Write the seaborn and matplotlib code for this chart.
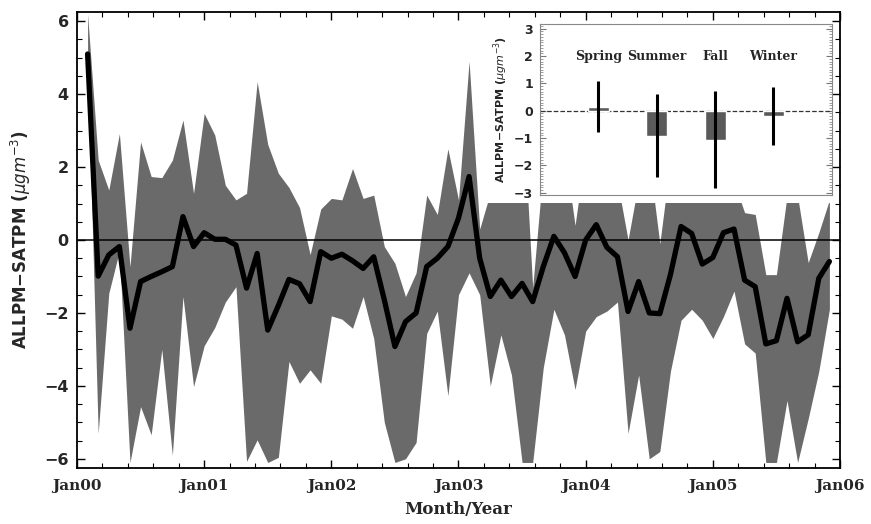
import numpy as np
import seaborn as sns
import matplotlib.pyplot as plt
from matplotlib.patches import Rectangle
from matplotlib.ticker import MultipleLocator

# monthly ALLPM - SATPM differences, month index counted from Jan00
month_idx = np.arange(1, 72)
diff_mean = [5.1, -0.99, -0.41, -0.18, -2.42, -1.14, -1.0, -0.87, -0.73, 0.64,
             -0.18, 0.2, 0.02, 0.02, -0.14, -1.32, -0.37, -2.47, -1.8, -1.08,
             -1.2, -1.69, -0.32, -0.5, -0.39, -0.57, -0.78, -0.46, -1.64, -2.92,
             -2.24, -2.0, -0.73, -0.5, -0.18, 0.6, 1.74, -0.5, -1.55, -1.1,
             -1.55, -1.19, -1.69, -0.73, 0.1, -0.35, -1.0, 0.0, 0.42, -0.2,
             -0.46, -1.96, -1.14, -2.0, -2.02, -0.95, 0.37, 0.18, -0.66, -0.48,
             0.2, 0.3, -1.1, -1.28, -2.85, -2.76, -1.6, -2.79, -2.6, -1.05,
             -0.59]
diff_upper = [6.2, 2.19, 1.37, 2.92, -0.73, 2.69, 1.74, 1.71, 2.19, 3.29,
              1.28, 3.47, 2.88, 1.5, 1.1, 1.28, 4.34, 2.62, 1.83, 1.44,
              0.89, -0.4, 0.85, 1.14, 1.1, 1.96, 1.14, 1.23, -0.18, -0.64,
              -1.55, -0.9, 1.23, 0.7, 2.5, 1.1, 4.9, 0.3, 1.3, 3.0,
              3.5, 4.0, -1.3, 2.0, 2.6, 2.5, 0.4, 2.5, 3.0, 2.5,
              1.6, 0.0, 1.6, 2.2, -0.1, 2.2, 2.8, 2.6, 2.0, 2.0,
              2.6, 1.6, 0.75, 0.7, -0.95, -0.95, 1.2, 1.2, -0.62, 0.2,
              1.1]
diff_lower = [5.0, -5.3, -1.46, -0.3, -6.1, -4.57, -5.34, -3.0, -5.9, -1.55,
              -4.02, -2.9, -2.4, -1.7, -1.28, -6.07, -5.48, -6.1, -5.96, -3.33,
              -3.93, -3.56, -3.93, -2.08, -2.17, -2.42, -1.55, -2.7, -5.0, -6.1,
              -6.0, -5.55, -2.56, -1.95, -4.27, -1.5, -0.9, -1.5, -4.0, -2.6,
              -3.7, -6.1, -6.1, -3.5, -1.9, -2.6, -4.1, -2.5, -2.1, -1.95,
              -1.7, -5.3, -3.7, -6.0, -5.8, -3.6, -2.2, -1.9, -2.2, -2.7,
              -2.1, -1.4, -2.85, -3.1, -6.1, -6.1, -4.4, -6.1, -4.9, -3.6,
              -1.9]
year_ticks = [0, 12, 24, 36, 48, 60, 72]
year_labels = ["Jan00", "Jan01", "Jan02", "Jan03", "Jan04", "Jan05", "Jan06"]

# seasonal means with spread
seasons = ["Spring", "Summer", "Fall", "Winter"]
season_mean = [0.15, -0.92, -1.08, -0.2]
season_hi = [1.1, 0.6, 0.72, 0.86]
season_lo = [-0.78, -2.42, -2.84, -1.25]

sns.set_style("ticks")
plt.rcParams['font.family'] = ['DejaVu Sans']

fig = plt.figure(figsize=(8.71, 5.24), dpi=100)
ax = fig.add_axes([0.0884, 0.107, 0.876, 0.870])
ax.set_axisbelow(False)

ax.fill_between(month_idx, diff_lower, diff_upper, color="#6a6a6a", lw=0, zorder=1)
# white box behind the inset hides the top of the band
ax.add_patch(Rectangle((0.537, 0.581), 0.5, 0.5, transform=ax.transAxes,
                       facecolor="white", edgecolor="none", zorder=1.2))
ax.axhline(0, color="black", lw=1.1, zorder=2)
sns.lineplot(x=month_idx, y=diff_mean, color="black", lw=3.8, ax=ax, zorder=3)

ax.set_xlim(0, 72)
ax.set_ylim(-6.25, 6.25)
ax.set_xticks(year_ticks)
ax.set_xticklabels(year_labels, family="DejaVu Serif", weight="bold", fontsize=11)
ax.xaxis.set_minor_locator(MultipleLocator(2.4))
ax.yaxis.set_major_locator(MultipleLocator(2))
ax.yaxis.set_minor_locator(MultipleLocator(0.5))
for lab in ax.get_yticklabels():
    lab.set_fontweight("bold")
    lab.set_fontsize(11.5)
ax.tick_params(which="both", direction="in", top=True, right=True, color="black")
ax.tick_params(which="major", length=6, width=1)
ax.tick_params(which="minor", length=3.5, width=0.8)
ax.tick_params(axis="x", pad=8)
ax.tick_params(axis="y", pad=6)
for sp in ax.spines.values():
    sp.set_linewidth(1.3)
    sp.set_color("black")
ax.set_xlabel("Month/Year", family="DejaVu Serif", weight="bold", fontsize=12, labelpad=6)
ax.set_ylabel(r"ALLPM−SATPM ($\mu gm^{-3}$)", weight="bold", fontsize=12, labelpad=8)

# inset: seasonal bars
ins = fig.add_axes([0.62, 0.628, 0.335, 0.326])
sns.barplot(x=seasons, y=season_mean, color="#5a5a5a", saturation=1, width=0.36,
            errorbar=None, ax=ins, zorder=2)
ins.vlines(np.arange(len(seasons)), season_lo, season_hi, color="black", lw=2.2, zorder=3)
ins.axhline(0, ls="--", color="#333333", lw=0.9, zorder=1)
for i, s in enumerate(seasons):
    ins.text(i, 2.0, s, ha="center", va="center", family="DejaVu Serif",
             weight="bold", fontsize=9)
ins.set_xlim(-1, 4)
ins.set_ylim(-3.08, 3.17)
ins.set_xticks([])
ins.set_xlabel("")
ins.yaxis.set_major_locator(MultipleLocator(1))
ins.yaxis.set_minor_locator(MultipleLocator(0.1))
ins.tick_params(which="both", direction="in", left=True, right=True, color="#777777")
ins.tick_params(which="major", length=4, width=0.8, labelsize=9, pad=5)
ins.tick_params(which="minor", length=2, width=0.5)
for lab in ins.get_yticklabels():
    lab.set_fontweight("bold")
for sp in ins.spines.values():
    sp.set_linewidth(0.8)
    sp.set_color("#888888")
ins.set_ylabel(r"ALLPM−SATPM ($\mu gm^{-3}$)", weight="bold", fontsize=8, labelpad=3)

fig.savefig("out.png", dpi=100)
